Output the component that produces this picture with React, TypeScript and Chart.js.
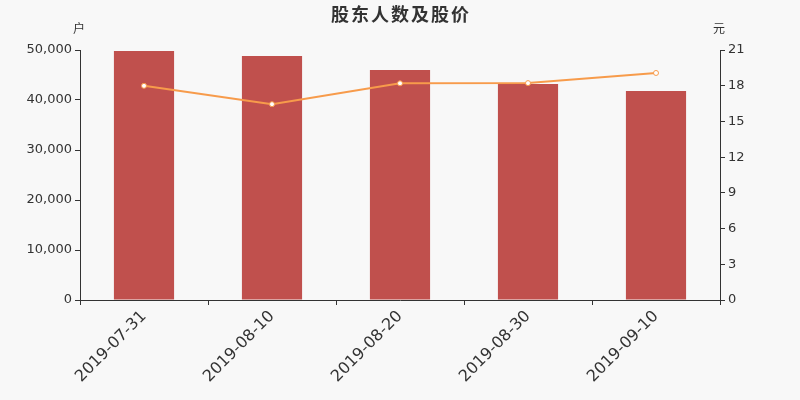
import { useEffect, useRef } from 'react';
import Chart from 'chart.js/auto';

const dates = ['2019-07-31', '2019-08-10', '2019-08-20', '2019-08-30', '2019-09-10'];
const holders = [49800, 48800, 46000, 43200, 41800];
const prices = [17.99, 16.45, 18.2, 18.22, 19.07];

const FONT = "'DejaVu Sans', sans-serif";
const TEXT = '#333333';
const TITLE = '股东人数及股价';

// draws the title and the two unit labels
const extras = {
  id: 'extras',
  afterDraw(chart: any) {
    const { ctx, chartArea } = chart;
    ctx.save();
    ctx.fillStyle = TEXT;
    ctx.textBaseline = 'middle';
    ctx.font = `bold 18px 'Noto Sans CJK SC', ${FONT}`;
    // title with a little letter spacing, char by char
    const gap = 2;
    const chars = TITLE.split('');
    const widths = chars.map((c) => ctx.measureText(c).width);
    const total = widths.reduce((a, b) => a + b, 0) + gap * (chars.length - 1);
    let x = 400 - total / 2;
    ctx.textAlign = 'left';
    chars.forEach((c, i) => {
      ctx.fillText(c, x, 14);
      x += widths[i] + gap;
    });
    ctx.textAlign = 'center';
    ctx.font = `12px 'Noto Sans CJK SC', ${FONT}`;
    ctx.fillText('户', chartArea.left - 1, 28);
    ctx.fillText('元', chartArea.right - 1, 28);
    ctx.restore();
  },
};

const App = () => {
  const canvasRef = useRef<HTMLCanvasElement>(null);

  useEffect(() => {
    document.body.style.margin = '0';
    if (!canvasRef.current) return;
    const chart = new Chart(canvasRef.current, {
      data: {
        labels: dates,
        datasets: [
          {
            type: 'line',
            data: prices,
            yAxisID: 'y1',
            borderColor: '#f79b4b',
            borderWidth: 2,
            pointRadius: 2.5,
            pointBackgroundColor: '#ffffff',
            pointBorderColor: '#f79b4b',
            pointBorderWidth: 1,
            order: 0,
          },
          {
            type: 'bar',
            data: holders,
            yAxisID: 'y',
            backgroundColor: '#c0504d',
            categoryPercentage: 1,
            barPercentage: 0.47,
            order: 1,
          },
        ],
      },
      options: {
        responsive: false,
        animation: false,
        layout: { padding: { top: 50, left: 0, right: 0, bottom: 0 } },
        plugins: { legend: { display: false }, tooltip: { enabled: false } },
        scales: {
          x: {
            offset: true,
            grid: { offset: true, drawOnChartArea: false, color: TEXT, tickLength: 5 },
            border: { color: TEXT },
            ticks: {
              color: TEXT,
              font: { family: FONT, size: 16 },
              minRotation: 45,
              maxRotation: 45,
              padding: 2,
            },
            afterFit: (s: any) => {
              s.height = 100;
            },
          },
          y: {
            position: 'left',
            min: 0,
            max: 50000,
            grid: { drawOnChartArea: false, color: TEXT, tickLength: 5 },
            border: { color: TEXT },
            ticks: {
              stepSize: 10000,
              color: TEXT,
              font: { family: FONT, size: 13 },
              padding: 3,
              callback: (v: any) => Number(v).toLocaleString('en-US'),
            },
            afterFit: (s: any) => {
              s.width = 80;
            },
          },
          y1: {
            position: 'right',
            min: 0,
            max: 21,
            grid: { drawOnChartArea: false, color: TEXT, tickLength: 5 },
            border: { color: TEXT },
            ticks: {
              stepSize: 3,
              color: TEXT,
              font: { family: FONT, size: 13 },
              padding: 3,
            },
            afterFit: (s: any) => {
              s.width = 80;
            },
          },
        },
      },
      plugins: [extras],
    });
    return () => chart.destroy();
  }, []);

  return (
    <div style={{ width: 800, height: 400, background: '#f8f8f8' }}>
      <canvas ref={canvasRef} width={800} height={400} />
    </div>
  );
};

export default App;
